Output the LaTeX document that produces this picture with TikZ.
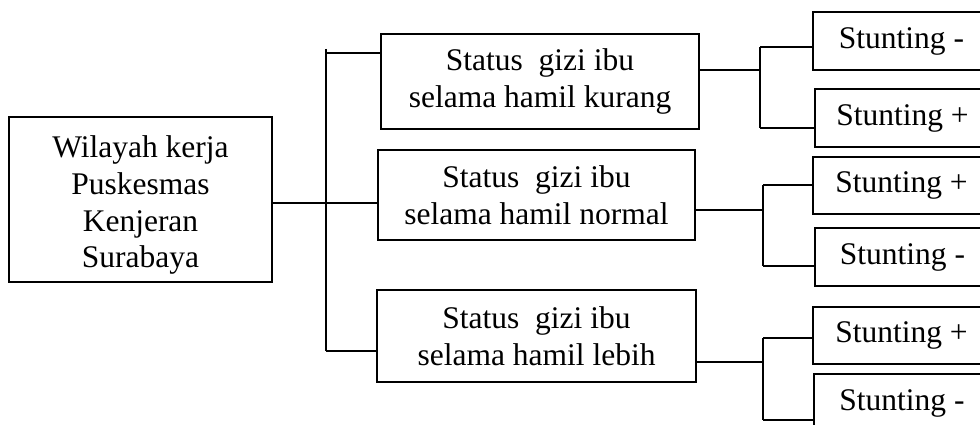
\documentclass[tikz,border=0pt]{standalone}
\usepackage{fontspec}
\setmainfont{Liberation Serif}
\begin{document}
\begin{tikzpicture}[x=1pt,y=-1pt,
  box/.style={draw,line width=1.8pt,align=center,inner sep=0pt,
    font=\fontsize{31.5}{36.7}\selectfont},
  link/.style={line width=1.1pt}]
\useasboundingbox (0,0) rectangle (980,425);

% root (text set a little below the box centre)
\node[box,minimum width=263,minimum height=165] (root) at (140.5,199.5)
  {\raisebox{-6pt}[\height][\depth]{\begin{tabular}{@{}c@{}}Wilayah kerja\\Puskesmas\\Kenjeran\\Surabaya\end{tabular}}};

% middle column
\node[box,minimum width=318,minimum height=95] (m1) at (540,81.5)
  {Status\ \ gizi ibu\\selama hamil kurang};
\node[box,minimum width=317,minimum height=90] (m2) at (536.5,195)
  {Status\ \ gizi ibu\\selama hamil normal};
\node[box,minimum width=319,minimum height=92] (m3) at (536.5,336)
  {Status\ \ gizi ibu\\selama hamil lebih};

% outcome column (runs past the right edge)
\node[box,minimum width=177,minimum height=58] (s1) at (901.5,41)    {Stunting -};
\node[box,minimum width=175,minimum height=58] (s2) at (902.5,118)   {Stunting +};
\node[box,minimum width=177,minimum height=57] (s3) at (901.5,185.5) {Stunting +};
\node[box,minimum width=175,minimum height=58] (s4) at (902.5,257)   {Stunting -};
\node[box,minimum width=177,minimum height=57] (s5) at (901.5,335.5) {Stunting +};
\node[box,minimum width=176,minimum height=58] (s6) at (902,403)     {Stunting -};

% bus coordinates
\coordinate (la) at (326,53);
\coordinate (lt) at (326,49);
\coordinate (lb) at (326,351);
\coordinate (lf) at (326,203);
\coordinate (a1) at (760,47);
\coordinate (a2) at (760,128);
\coordinate (af) at (760,70);
\coordinate (b1) at (763,185);
\coordinate (b2) at (763,266);
\coordinate (bf) at (763,210);
\coordinate (c1) at (763,338);
\coordinate (c2) at (763,420);
\coordinate (cf) at (763,362);

% root to middle column
\draw[link] (root.east |- lf) -- (lf -| m2.west);
\draw[link] (lt) -- (lb);
\draw[link] (la) -- (la -| m1.west);
\draw[link] (lb) -- (lb -| m3.west);

% middle to outcomes
\draw[link] (m1.east |- af) -- (af);
\draw[link] (a1) -- (a2);
\draw[link] (a1) -- (a1 -| s1.west);
\draw[link] (a2) -- (a2 -| s2.west);

\draw[link] (m2.east |- bf) -- (bf);
\draw[link] (b1) -- (b2);
\draw[link] (b1) -- (b1 -| s3.west);
\draw[link] (b2) -- (b2 -| s4.west);

\draw[link] (m3.east |- cf) -- (cf);
\draw[link] (c1) -- (c2);
\draw[link] (c1) -- (c1 -| s5.west);
\draw[link] (c2) -- (c2 -| s6.west);
\end{tikzpicture}
\end{document}
